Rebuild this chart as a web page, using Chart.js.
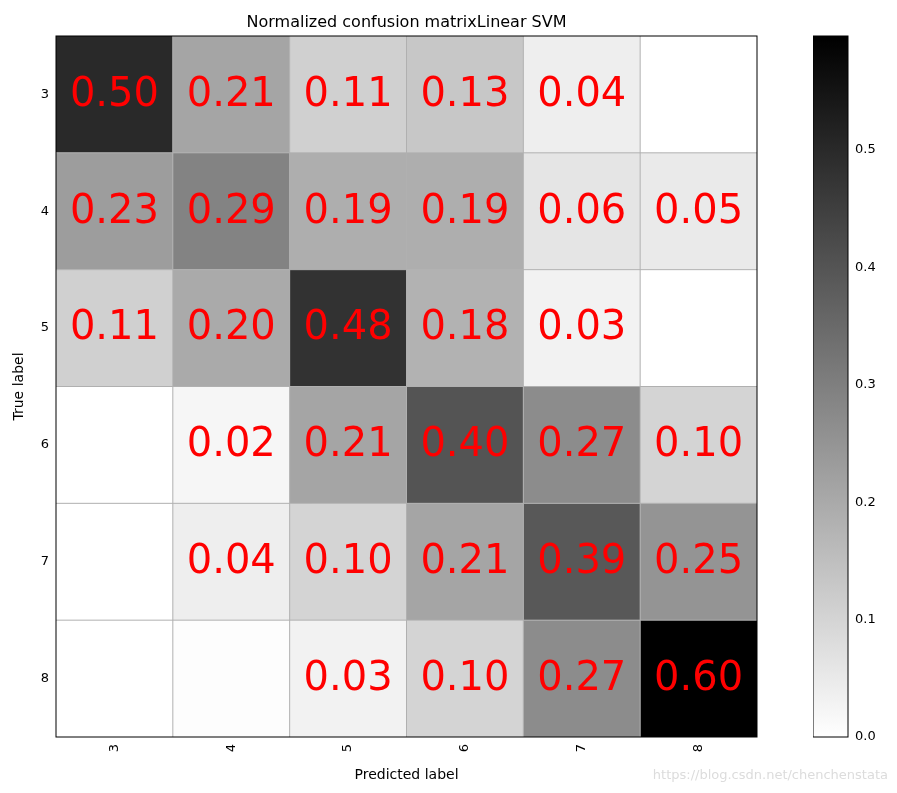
<!DOCTYPE html>
<html>
<head>
<meta charset="utf-8">
<script src="https://cdn.jsdelivr.net/npm/chart.js@4"></script>
<style>
  body { margin: 0; background: #fff; }
  #wrap { position: relative; width: 897px; height: 793px; }
  canvas { position: absolute; top: 0; }
</style>
</head>
<body>
<div id="wrap">
  <div style="position:absolute;left:0;top:0;width:897px;height:793px"><canvas id="matrix"></canvas></div>
  <div style="position:absolute;left:813px;top:0;width:84px;height:793px"><canvas id="cbar"></canvas></div>
</div>
<script>
// classes (true and predicted)
const classes = ['3', '4', '5', '6', '7', '8'];
// rows = true label, cols = predicted label
const row3 = [0.50, 0.21, 0.11, 0.13, 0.04, 0.00];
const row4 = [0.23, 0.29, 0.19, 0.19, 0.06, 0.05];
const row5 = [0.11, 0.20, 0.48, 0.18, 0.03, 0.00];
const row6 = [0.00, 0.02, 0.21, 0.40, 0.27, 0.10];
const row7 = [0.00, 0.04, 0.10, 0.21, 0.39, 0.25];
const row8 = [0.00, 0.004, 0.03, 0.10, 0.27, 0.60];
const rows = [row3, row4, row5, row6, row7, row8];
const cbTicks = [0.0, 0.1, 0.2, 0.3, 0.4, 0.5];
const vmax = 0.597;

const FONT = "'DejaVu Sans', sans-serif";

function grey(v) {
  const g = Math.round(255 * (1 - Math.min(v / vmax, 1)));
  return `rgb(${g},${g},${g})`;
}

const cellsPlugin = {
  id: 'cells',
  beforeDatasetsDraw(chart) {
    const { ctx, scales: { x, y } } = chart;
    ctx.save();
    rows.forEach((r, i) => {
      r.forEach((v, j) => {
        const x0 = x.getPixelForValue(j - 0.5), x1 = x.getPixelForValue(j + 0.5);
        const y0 = y.getPixelForValue(i - 0.5), y1 = y.getPixelForValue(i + 0.5);
        ctx.fillStyle = grey(v);
        ctx.fillRect(x0, y0, x1 - x0, y1 - y0);
      });
    });
    // cell grid
    ctx.strokeStyle = '#b0b0b0';
    ctx.lineWidth = 1;
    for (let k = 0; k < classes.length - 1; k++) {
      const px = x.getPixelForValue(k + 0.5), py = y.getPixelForValue(k + 0.5);
      ctx.beginPath();
      ctx.moveTo(px, chart.chartArea.top); ctx.lineTo(px, chart.chartArea.bottom);
      ctx.moveTo(chart.chartArea.left, py); ctx.lineTo(chart.chartArea.right, py);
      ctx.stroke();
    }
    // values
    ctx.fillStyle = '#ff0000';
    ctx.font = `40px ${FONT}`;
    ctx.textAlign = 'center';
    ctx.textBaseline = 'middle';
    rows.forEach((r, i) => {
      r.forEach((v, j) => {
        if (v < 0.01) return;
        ctx.fillText(v.toFixed(2), x.getPixelForValue(j), y.getPixelForValue(i) + 1);
      });
    });
    ctx.restore();
  },
  afterDraw(chart) {
    const { ctx, chartArea: a } = chart;
    ctx.save();
    ctx.strokeStyle = '#000';
    ctx.lineWidth = 1;
    ctx.strokeRect(a.left, a.top, a.right - a.left, a.bottom - a.top);
    ctx.fillStyle = '#000';
    ctx.textAlign = 'center';
    ctx.textBaseline = 'alphabetic';
    ctx.font = `16px ${FONT}`;
    ctx.fillText('Normalized confusion matrixLinear SVM', (a.left + a.right) / 2, 27);
    ctx.font = `14px ${FONT}`;
    ctx.fillText('Predicted label', (a.left + a.right) / 2, 779);
    ctx.translate(23, (a.top + a.bottom) / 2);
    ctx.rotate(-Math.PI / 2);
    ctx.fillText('True label', 0, 0);
    ctx.restore();
    ctx.save();
    ctx.fillStyle = '#dcdcdc';
    ctx.font = `13px ${FONT}`;
    ctx.textAlign = 'right';
    ctx.fillText('https://blog.csdn.net/chenchenstata', 888, 779);
    ctx.restore();
  }
};

new Chart(document.getElementById('matrix'), {
  type: 'scatter',
  data: { datasets: [{ data: [] }] },
  options: {
    responsive: true, maintainAspectRatio: false, animation: false,
    layout: { padding: { top: 36, right: 140, left: 0, bottom: 0 } },
    plugins: { legend: { display: false }, tooltip: { enabled: false } },
    scales: {
      x: {
        type: 'linear', min: -0.5, max: 5.5,
        afterBuildTicks: s => { s.ticks = classes.map((c, i) => ({ value: i })); },
        afterFit: s => { s.height = 56; },
        grid: { display: false, drawTicks: true, tickLength: 4, tickColor: '#000' },
        border: { display: false },
        ticks: { color: '#000', font: { family: FONT, size: 13 }, minRotation: 90, maxRotation: 90,
                 callback: v => classes[v] }
      },
      y: {
        type: 'linear', min: -0.5, max: 5.5, reverse: true,
        afterBuildTicks: s => { s.ticks = classes.map((c, i) => ({ value: i })); },
        afterFit: s => { s.width = 56; },
        grid: { display: false, tickLength: 4, tickColor: '#000' },
        border: { display: false },
        ticks: { color: '#000', font: { family: FONT, size: 13 }, callback: v => classes[v] }
      }
    }
  },
  plugins: [cellsPlugin]
});

const gradPlugin = {
  id: 'grad',
  beforeDatasetsDraw(chart) {
    const { ctx, chartArea: a, scales: { y } } = chart;
    const g = ctx.createLinearGradient(0, y.getPixelForValue(0), 0, y.getPixelForValue(vmax));
    g.addColorStop(0, '#ffffff');
    g.addColorStop(1, '#000000');
    ctx.save();
    ctx.fillStyle = g;
    ctx.fillRect(a.left, a.top, a.right - a.left, a.bottom - a.top);
    ctx.strokeStyle = '#000';
    ctx.strokeRect(a.left, a.top, a.right - a.left, a.bottom - a.top);
    ctx.restore();
  }
};

new Chart(document.getElementById('cbar'), {
  type: 'scatter',
  data: { datasets: [{ data: [] }] },
  options: {
    responsive: true, maintainAspectRatio: false, animation: false,
    layout: { padding: { top: 36, bottom: 56, left: 0, right: 0 } },
    plugins: { legend: { display: false }, tooltip: { enabled: false } },
    scales: {
      x: { display: false, min: 0, max: 1 },
      y: {
        position: 'right', min: 0, max: vmax,
        afterBuildTicks: s => { s.ticks = cbTicks.map(v => ({ value: v })); },
        afterFit: s => { s.width = 49; },
        grid: { display: false, tickLength: 4, tickColor: '#000' },
        border: { display: false },
        ticks: { color: '#000', font: { family: FONT, size: 13 }, callback: v => v.toFixed(1) }
      }
    }
  },
  plugins: [gradPlugin]
});
</script>
</body>
</html>
